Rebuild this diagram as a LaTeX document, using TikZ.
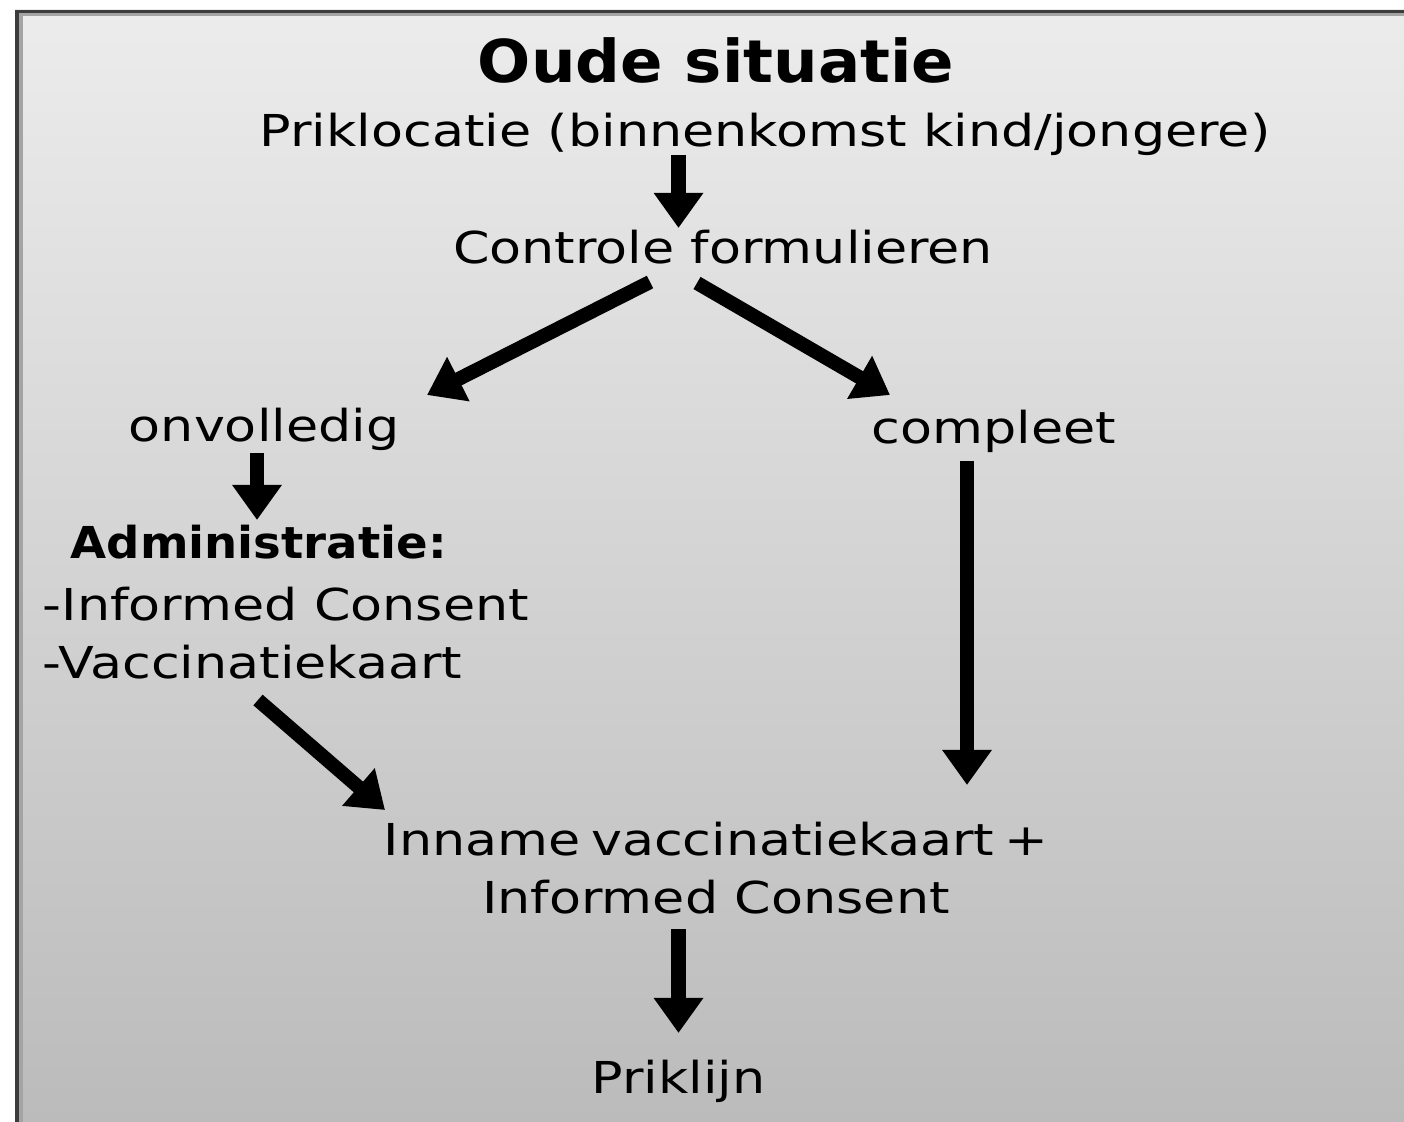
\documentclass[tikz,border=0pt]{standalone}
\usepackage{fontspec}
\setmainfont{DejaVu Sans}[FakeStretch=1.19]
\newfontfamily\vet{DejaVu Sans}[FakeStretch=1.06]
\usetikzlibrary{calc, arrows.meta}

\definecolor{boven}{HTML}{ECECEC}
\definecolor{onder}{HTML}{BBBBBB}
\definecolor{rand}{HTML}{3C3C3C}
\definecolor{randlicht}{HTML}{A4A4A4}

\begin{document}
\begin{tikzpicture}[x=0.01cm, y=-0.01cm,
  tekst/.style={inner sep=0pt, anchor=base, font=\fontsize{12.5}{15}\selectfont},
  pijl/.style={line width=4pt, -{Triangle[length=10pt, width=13.5pt]}}]

% 画布大小（按像素）
\useasboundingbox (0, 0) rectangle (1404, 1122);

% 灰色渐变背景
\shade[top color=boven, bottom color=onder] (15, 10) rectangle (1404, 1122);

% 左边和上边的框线
\fill[randlicht] (19, 13) rectangle (23, 1122);
\fill[randlicht] (19, 13) rectangle (1404, 16);
\fill[rand] (15, 10) rectangle (19, 1122);
\fill[rand] (15, 10) rectangle (1404, 13);

% 标题
\node[tekst, font=\vet\bfseries\fontsize{16.8}{20}\selectfont] (titel) at (716, 83) {Oude situatie};

% 各个步骤
\node[tekst] (priklocatie) at (765, 147) {Priklocatie (binnenkomst kind/jongere)};
\node[tekst] (controle) at (723, 264) {Controle formulieren};
\node[tekst] (onvolledig) at (264, 442) {onvolledig};
\node[tekst] (compleet) at (994, 443) {compleet};

% 行政部分（左对齐）
\node[tekst, anchor=base west, font=\vet\bfseries\fontsize{12.5}{15}\selectfont] (admin) at (70, 558) {Administratie:};
\node[tekst, anchor=base west] (informed) at (42, 620) {-Informed Consent};
\node[tekst, anchor=base west] (vaccinatie) at (42, 678) {-Vaccinatiekaart};

% 汇合与结束
\node[tekst] (inname) at (716, 855) {Inname\hspace{3pt}vaccinatiekaart\hspace{3pt}+};
\node[tekst] (consent) at (716, 913) {Informed Consent};
\node[tekst] (priklijn) at (678.5, 1093) {Priklijn};

% 箭头
\draw[pijl] ($(priklocatie.base -| priklijn.base)+(0, 8)$) -- ($(controle.base -| priklijn.base)+(0, -36)$);
\draw[pijl] ($(controle.base)+(-73, 18)$) -- ($(onvolledig.base)+(163, -47)$);
\draw[pijl] ($(controle.base)+(-26, 19)$) -- ($(compleet.base)+(-104, -48)$);
\draw[pijl] ($(onvolledig.base)+(-7, 11)$) -- ($(admin.base west)+(187, -38)$);
\draw[pijl] ($(vaccinatie.base west)+(216, 22)$) -- ($(inname.base)+(-331, -45)$);
\draw[pijl] ($(compleet.base)+(-27, 18)$) -- ($(inname.base)+(251, -70)$);
\draw[pijl] ($(consent.base -| priklijn.base)+(0, 16)$) -- ($(priklijn.base)+(0, -60)$);

\end{tikzpicture}
\end{document}
